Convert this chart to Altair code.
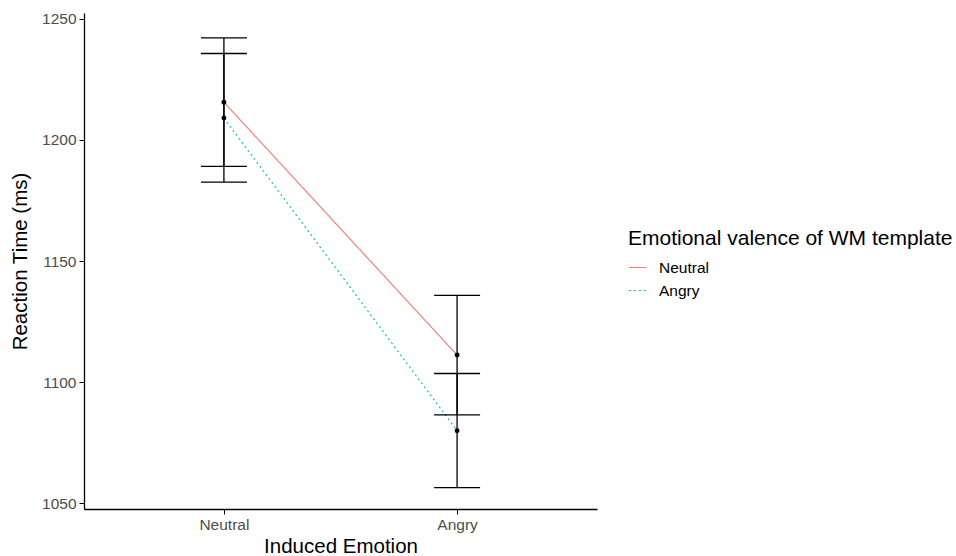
import altair as alt
import pandas as pd

# Cell means and error-bar limits (reaction time, ms)
induced = ["Neutral", "Neutral", "Angry", "Angry"]
template = ["Neutral", "Angry", "Neutral", "Angry"]
mean_rt = [1215.5, 1209.0, 1111.2, 1080.0]
lower = [1189.0, 1182.5, 1086.5, 1056.5]
upper = [1242.0, 1235.6, 1135.8, 1103.6]

order = ["Neutral", "Angry"]
y_ticks = [1050, 1100, 1150, 1200, 1250]

df = pd.DataFrame({
    "induced": induced,
    "template": template,
    "mean": mean_rt,
    "lower": lower,
    "upper": upper,
})

FONT = "Liberation Sans"
LABEL_SIZE = 15.5
TITLE_SIZE = 20.5

x_enc = alt.X(
    "induced:N",
    sort=order,
    scale=alt.Scale(type="point", padding=0.6),
    axis=alt.Axis(
        title="Induced Emotion",
        labelAngle=0,
        labelFontSize=LABEL_SIZE,
        labelColor="#4D4D4D",
        labelPadding=3,
        titleFontSize=TITLE_SIZE,
        titleFontWeight="normal",
        titleColor="black",
        titlePadding=4,
        tickColor="black",
        tickSize=5,
        domainColor="black",
        domainWidth=1.3,
        grid=False,
    ),
)

y_scale = alt.Scale(domain=[1047.7, 1252.3], nice=False, zero=False)
y_axis = alt.Axis(
    title="Reaction Time (ms)",
    values=y_ticks,
    format="d",
    labelFontSize=LABEL_SIZE,
    labelColor="#4D4D4D",
    labelPadding=3,
    titleFontSize=TITLE_SIZE,
    titleFontWeight="normal",
    titleColor="black",
    titlePadding=11,
    tickColor="black",
    tickSize=5,
    domainColor="black",
    domainWidth=1.3,
    grid=False,
)

base = alt.Chart(df)

legend = alt.Legend(
    title="Emotional valence of WM template",
    orient="none",
    legendX=544,
    legendY=215,
    titleFontSize=21,
    titleFontWeight="normal",
    titleColor="black",
    titleLimit=400,
    titlePadding=9,
    labelFontSize=LABEL_SIZE,
    labelColor="black",
    symbolType="stroke",
    symbolSize=300,
    symbolStrokeWidth=1.2,
    rowPadding=5,
    labelOffset=12,
)

lines = base.mark_line(strokeWidth=1.1).encode(
    x=x_enc,
    y=alt.Y("mean:Q", scale=y_scale, axis=y_axis),
    color=alt.Color(
        "template:N",
        sort=order,
        scale=alt.Scale(domain=order, range=["#F8766D", "#00BFC4"]),
        legend=legend,
    ),
    strokeDash=alt.StrokeDash(
        "template:N",
        sort=order,
        scale=alt.Scale(domain=order, range=[[1, 0], [2, 3]]),
        legend=legend,
    ),
)

bars = base.mark_rule(color="black", strokeWidth=1.3).encode(
    x=x_enc,
    y=alt.Y("lower:Q", scale=y_scale),
    y2="upper:Q",
)

caps = base.transform_fold(["lower", "upper"], as_=["bound", "value"]).mark_tick(
    color="black", size=46, thickness=1.3, opacity=1
).encode(
    x=x_enc,
    y=alt.Y("value:Q", scale=y_scale),
)

points = base.mark_circle(color="black", size=24, opacity=1).encode(
    x=x_enc,
    y=alt.Y("mean:Q", scale=y_scale),
)

chart = (
    alt.layer(lines, bars, caps, points)
    .properties(
        width=513,
        height=496,
        autosize=alt.AutoSizeParams(type="none"),
        padding={"left": 84, "top": 13, "right": 359, "bottom": 47},
    )
    .configure(font=FONT)
    .configure_view(stroke=None)
)

chart.save("out.html", embed_options={"renderer": "svg", "actions": False})
